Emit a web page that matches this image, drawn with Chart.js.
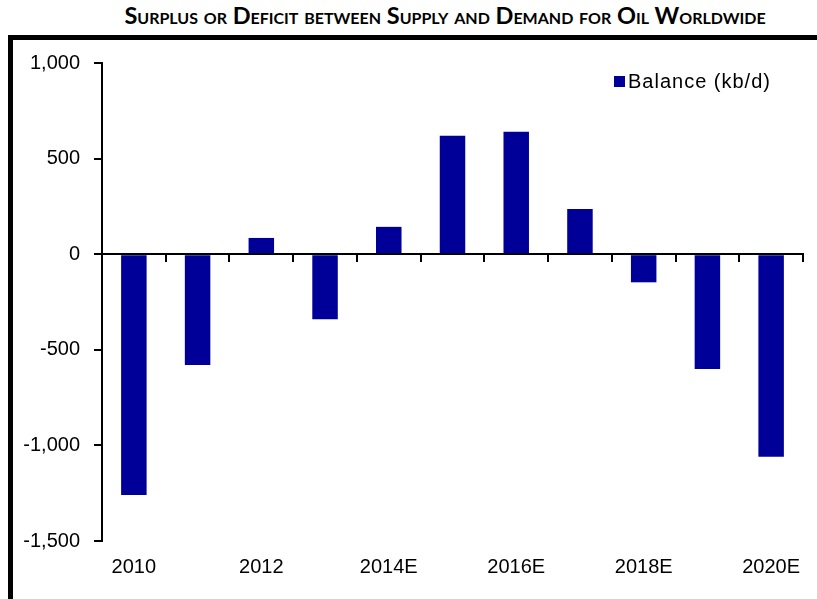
<!DOCTYPE html>
<html>
<head>
<meta charset="utf-8">
<script src="https://cdn.jsdelivr.net/npm/chart.js@4"></script>
<style>
  html, body { margin: 0; padding: 0; background: #fff; overflow: hidden; }
  #title {
    position: absolute; left: 0; top: 1px; width: 890px; text-align: center;
    font-family: Lato, "Open Sans", sans-serif; font-weight: bold; font-size: 23.5px;
    font-variant: small-caps; color: #000; white-space: nowrap;
  }
  #frame {
    position: absolute; left: 8px; top: 35px; width: 900px; height: 700px;
    border-left: 5px solid #000; border-top: 5px solid #000;
  }
  #wrap { position: absolute; left: 0; top: 0; width: 817px; height: 599px; }
</style>
</head>
<body>
<div id="title">Surplus or Deficit between Supply and Demand for Oil Worldwide</div>
<div id="frame"></div>
<div id="wrap"><canvas id="chart"></canvas></div>
<script>
// valeurs (kb/d)
const categories = ['2010', '2011', '2012', '2013', '2014E', '2015E', '2016E', '2017E', '2018E', '2019E', '2020E'];
const balance = [-1260, -580, 85, -340, 143, 620, 640, 236, -147, -600, -1060];
const tickLabels = ['2010', '', '2012', '', '2014E', '', '2016E', '', '2018E', '', '2020E'];
const yTicks = [-1500, -1000, -500, 0, 500, 1000];

const font = { family: '"Liberation Sans", Arial, sans-serif', size: 20 };

// légende dessinée à la main, en haut à droite de la zone du graphique
const legendBox = {
    id: 'legendBox',
    afterDraw(chart) {
        const ctx = chart.ctx;
        const area = chart.chartArea;
        const ds = chart.data.datasets[0];
        const x = area.right - 189;
        const y = area.top + 13;
        ctx.save();
        ctx.fillStyle = ds.backgroundColor;
        ctx.fillRect(x, y, 11, 11);
        ctx.fillStyle = '#000';
        ctx.font = '20px "Liberation Sans", Arial, sans-serif';
        ctx.letterSpacing = '1px';
        ctx.textBaseline = 'middle';
        ctx.fillText(ds.label, x + 14, y + 6);
        ctx.restore();
    }
};

new Chart(document.getElementById('chart').getContext('2d'), {
    type: 'bar',
    data: {
        labels: categories,
        datasets: [{
            label: 'Balance (kb/d)',
            data: balance,
            backgroundColor: '#000099',
            borderWidth: 0,
            categoryPercentage: 0.4,
            barPercentage: 1,
            xAxisID: 'x',
            yAxisID: 'y'
        }]
    },
    options: {
        responsive: true,
        maintainAspectRatio: false,
        animation: false,
        layout: { padding: { left: 0, right: 14, top: 63, bottom: 0 } },
        plugins: {
            legend: { display: false },
            tooltip: { enabled: false }
        },
        scales: {
            x: {
                type: 'category',
                position: { y: 0 },
                offset: true,
                grid: { offset: true, drawOnChartArea: false, drawTicks: true, tickLength: 7, color: '#000', lineWidth: 2 },
                border: { color: '#000', width: 2 },
                ticks: { display: false }
            },
            xLabels: {
                type: 'category',
                position: 'bottom',
                offset: true,
                grid: { display: false },
                border: { display: false },
                ticks: {
                    autoSkip: false,
                    maxRotation: 0,
                    padding: 6,
                    color: '#000',
                    font: font,
                    callback: (v, i) => tickLabels[i]
                },
                afterFit: s => { s.height = 58; }
            },
            y: {
                min: -1500,
                max: 1000,
                grid: { drawOnChartArea: false, drawTicks: true, tickLength: 8, color: '#000', lineWidth: 2 },
                border: { color: '#000', width: 2 },
                afterBuildTicks: s => { s.ticks = yTicks.map(v => ({ value: v })); },
                ticks: {
                    padding: 14,
                    color: '#000',
                    font: font,
                    callback: v => v.toLocaleString('en-US')
                },
                afterFit: s => { s.width = 102; }
            }
        }
    },
    plugins: [legendBox]
});
</script>
</body>
</html>
